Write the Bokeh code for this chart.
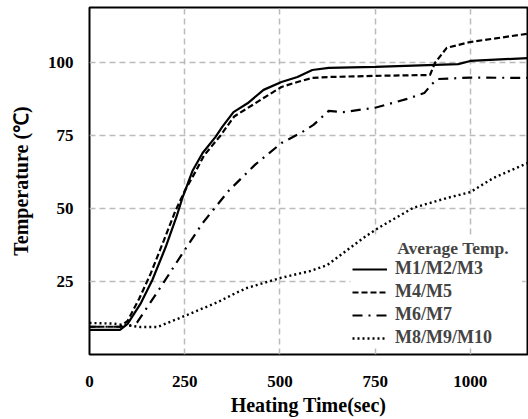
from bokeh.plotting import figure
from bokeh.models import Legend, LegendItem, Label, FixedTicker, Range1d, BoxAnnotation
from bokeh.embed import file_html
from bokeh.resources import INLINE

# ---- data ----
t_m1 = [0, 80, 100, 135, 165, 200, 228, 245, 271, 297, 331, 349, 378, 415, 457, 504, 546, 585, 628, 750, 968, 1000, 1150]
y_m1 = [8.4, 8.4, 10.5, 17.6, 25.5, 36.8, 47, 54, 63, 69, 74.5, 78, 83, 86, 90.6, 93.3, 95, 97.4, 98.1, 98.5, 99.4, 100.5, 101.5]

t_m4 = [0, 80, 100, 130, 160, 195, 225, 250, 280, 300, 344, 380, 457, 504, 546, 585, 628, 750, 894, 907, 938, 1000, 1150]
y_m4 = [9.5, 9.5, 11.5, 19, 27.5, 39, 49, 56, 63, 68, 75, 81.5, 87.8, 91.6, 93.3, 94.7, 95, 95.4, 95.7, 99.8, 105, 107, 109.8]

t_m6 = [0, 100, 125, 194, 246, 297, 365, 435, 504, 559, 588, 628, 667, 750, 834, 879, 897, 913, 1000, 1150]
y_m6 = [9.5, 9.5, 11, 24.5, 35, 45, 56, 65, 72.4, 76.2, 78.6, 83.4, 83, 84.5, 87.5, 89.5, 92.3, 94.3, 94.8, 94.7]

t_m8 = [0, 60, 100, 134, 178, 250, 338, 383, 414, 501, 580, 624, 677, 719, 758, 850, 939, 1000, 1060, 1150]
y_m8 = [10.8, 10.6, 10, 9.4, 9.4, 13.2, 18, 21, 22.8, 26.2, 28.6, 30.6, 35.8, 39.9, 43.3, 50.2, 53.6, 55.6, 60.4, 65.5]

x_ticks = [0, 250, 500, 750, 1000]
y_ticks = [25, 50, 75, 100]
series_names = ["M1/M2/M3", "M4/M5", "M6/M7", "M8/M9/M10"]
legend_title = "Average Temp."

FONT = "Liberation Serif"

p = figure(width=528, height=419, output_backend="svg", toolbar_location=None,
           x_range=Range1d(0, 1150), y_range=Range1d(0, 118.8),
           min_border_left=89, min_border_right=1, min_border_top=7, min_border_bottom=65)
p.background_fill_color = "white"
p.border_fill_color = "white"
p.outline_line_color = "black"
p.outline_line_width = 2

for ax in (p.xaxis, p.yaxis):
    ax.axis_line_color = None
    ax.major_tick_line_color = None
    ax.minor_tick_line_color = None
    ax.major_label_text_font = FONT
    ax.major_label_text_font_style = "bold"
    ax.major_label_text_font_size = "17px"
    ax.major_label_text_color = "black"
    ax.axis_label_text_font = FONT
    ax.axis_label_text_font_style = "bold"
    ax.axis_label_text_font_size = "20px"
    ax.axis_label_text_color = "black"

p.xaxis.ticker = FixedTicker(ticks=x_ticks)
p.yaxis.ticker = FixedTicker(ticks=y_ticks)
p.xaxis.axis_label = "Heating Time(sec)"
p.yaxis.axis_label = "Temperature (\u2103)"
p.xaxis.major_label_standoff = 15
p.xaxis.axis_label_standoff = 4
p.yaxis.major_label_standoff = 10
p.yaxis.axis_label_standoff = 13

for g in (p.xgrid, p.ygrid):
    g.grid_line_color = "#bbbbbb"
    g.grid_line_dash = "6 4"
    g.grid_line_width = 1.5

# white area behind the legend (hides the grid there)
p.add_layout(BoxAnnotation(left=685, right=1136, bottom=2.6, top=40.6, level="underlay",
                           fill_color="white", fill_alpha=1.0, line_color=None))

r1 = p.line(t_m1, y_m1, line_color="black", line_width=2.2)
r2 = p.line(t_m4, y_m4, line_color="black", line_width=2.2, line_dash="6 3")
r3 = p.line(t_m6, y_m6, line_color="black", line_width=2.2, line_dash="10 6 2 6")
r4 = p.line(t_m8, y_m8, line_color="black", line_width=2.4, line_dash="2 3")

legend = Legend(items=[LegendItem(label=n, renderers=[r]) for n, r in zip(series_names, [r1, r2, r3, r4])],
                location=(263, 6), padding=4, margin=0, spacing=2,
                label_height=20, glyph_height=20, glyph_width=35, label_standoff=8,
                label_text_font=FONT, label_text_font_style="bold", label_text_font_size="18px",
                border_line_color=None, background_fill_alpha=0.0)
p.add_layout(legend)

p.add_layout(Label(x=808, y=36.5, text=legend_title, text_font=FONT, text_font_style="bold",
                   text_font_size="17.5px", text_baseline="middle", text_align="left"))

open("out.html", "w").write(file_html(p, INLINE))
